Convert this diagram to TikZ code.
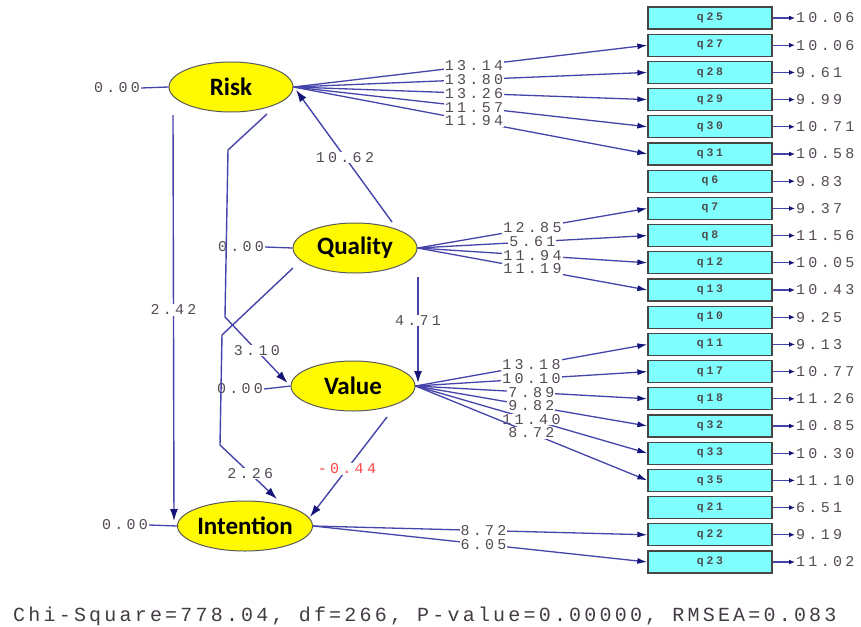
\documentclass[tikz,border=0pt]{standalone}
\usepackage{fontspec}
\setmainfont{Carlito}
\newfontfamily\monofont[LetterSpace=22]{Liberation Mono}
\newfontfamily\boxfont[LetterSpace=24]{Liberation Mono}
\newfontfamily\fitfont[LetterSpace=16]{Liberation Mono}
\usetikzlibrary{shapes.geometric,arrows.meta}

\definecolor{pathline}{RGB}{68,68,170}
\definecolor{tipcol}{RGB}{20,20,120}
\definecolor{lbl}{RGB}{85,75,85}
\definecolor{negred}{RGB}{255,70,70}
\definecolor{boxfill}{RGB}{128,255,255}
\definecolor{boxedge}{RGB}{70,70,70}
\definecolor{latfill}{RGB}{255,250,0}
\definecolor{latedge}{RGB}{90,90,90}

\begin{document}
\begin{tikzpicture}[x=1pt,y=-1pt,
  latent/.style={ellipse, draw=latedge, line width=1pt, fill=latfill,
    minimum width=124pt, minimum height=50pt, inner sep=0pt,
    font=\fontsize{25}{25}\selectfont\bfseries},
  obs/.style={rectangle, draw=boxedge, line width=1.3pt, fill=boxfill,
    minimum width=124pt, minimum height=22pt, inner sep=0pt,
    font=\boxfont\bfseries\fontsize{11.5}{11.5}\selectfont, text=black!70},
  lab/.style={fill=white, inner sep=1pt, text height=9.5pt, text depth=0pt,
    font=\monofont\fontsize{15}{15}\selectfont, text=lbl},
  errval/.style={inner sep=1pt, font=\monofont\fontsize{15}{15}\selectfont, text=lbl},
  loading/.style={draw=pathline, line width=1.3pt,
    -{Latex[length=10pt,width=6pt,color=tipcol]}},
  structural/.style={draw=pathline, line width=1.4pt,
    -{Latex[length=12pt,width=8pt,color=tipcol]}},
  errline/.style={draw=pathline, line width=1.3pt},
  errarrow/.style={draw=pathline, line width=1.3pt,
    -{Latex[length=6pt,width=5pt,color=tipcol]}}
]
\fill[white] (0,0) rectangle (861,626);
\useasboundingbox (0,0) rectangle (861,626);

% latent variables
\node[latent] (risk)      at (231,87)  {Risk};
\node[latent] (quality)   at (355,248) {Quality};
\node[latent] (value)     at (353,386) {Value};
\node[latent] (intention) at (245,526) {Intention};

% observed indicators with their error variances
\foreach \n/\v [count=\i from 0] in {25/10.06, 27/10.06, 28/9.61, 29/9.99,
    30/10.71, 31/10.58, 6/9.83, 7/9.37, 8/11.56, 12/10.05, 13/10.43,
    10/9.25, 11/9.13, 17/10.77, 18/11.26, 32/10.85, 33/10.30, 35/11.10,
    21/6.51, 22/9.19, 23/11.02} {
  \node[obs] (q\n) at (710,{18+27.2*\i}) {q\n};
  \node[errval, anchor=west] (e\n) at (795,{18+27.2*\i}) {\v};
  \draw[errarrow] (q\n.east) -- (e\n.west);
}

% latent error terms
\node[errval] (erisk) at (117,88)  {0.00};
\node[errval] (equal) at (241,247) {0.00};
\node[errval] (evalu) at (240,389) {0.00};
\node[errval] (einte) at (125,525) {0.00};
\draw[errline] (erisk.east) -- (risk.west);
\draw[errline] (equal.east) -- (quality.west);
\draw[errline] (evalu.east) -- (value.west);
\draw[errline] (einte.east) -- (intention.west);

% loadings
\foreach \q/\v in {27/13.14, 28/13.80, 29/13.26, 30/11.57, 31/11.94}
  \draw[loading] (risk.east) -- node[lab,pos=0.51]{\v} (q\q.west);
\foreach \q/\v in {7/12.85, 8/5.61, 12/11.94, 13/11.19}
  \draw[loading] (quality.east) -- node[lab,pos=0.5]{\v} (q\q.west);
\foreach \q/\v in {11/13.18, 17/10.10, 18/7.89, 32/9.82, 33/11.40, 35/8.72}
  \draw[loading] (value.east) -- node[lab,pos=0.5]{\v} (q\q.west);
\foreach \q/\v in {22/8.72, 23/6.05}
  \draw[loading] (intention.east) -- node[lab,pos=0.51]{\v} (q\q.west);

% structural paths
\draw[structural] ([shift={(37,-26)}]quality.center) -- node[lab,pos=0.49]{10.62} ([shift={(65,3)}]risk.center);
\draw[structural] ([shift={(63,29)}]quality.center) -- node[lab,pos=0.41]{4.71} ([shift={(65,-3)}]value.center);
\draw[structural] ([shift={(-58,28)}]risk.center) -- node[lab,pos=0.48]{2.42} ([shift={(-3,-5)}]intention.west);
\draw[structural] ([shift={(36,27)}]risk.center) -- (228,150) -- (225,317)
  -- node[lab,pos=0.51]{3.10} ([shift={(-3,-3)}]value.west);
\draw[structural] ([shift={(-62,20)}]quality.center) -- (222,335) -- (220,445)
  -- node[lab,pos=0.53]{2.26} ([shift={(32,-27)}]intention.center);
\draw[structural] ([shift={(34,31)}]value.center) -- node[lab,pos=0.52,text=negred]{-0.44} ([shift={(65,-9)}]intention.center);

% fit statistics
\node[anchor=base west, inner sep=0pt, text=lbl!80!black,
  font=\fitfont\fontsize{20}{20}\selectfont] (fit) at (13,621)
  {Chi-Square=778.04, df=266, P-value=0.00000, RMSEA=0.083};
\end{tikzpicture}
\end{document}
